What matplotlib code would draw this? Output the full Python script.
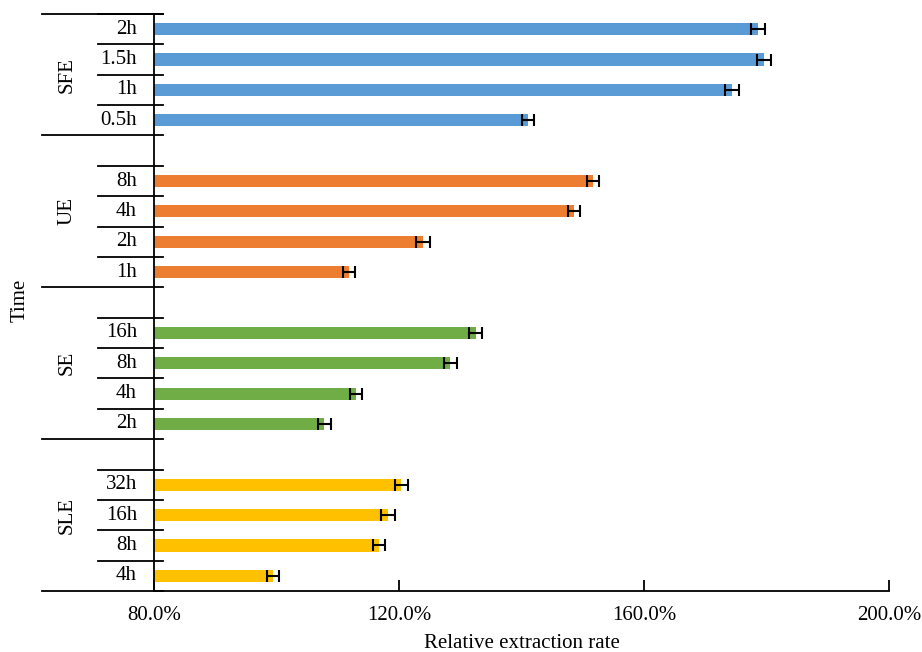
import matplotlib
matplotlib.use('Agg')
from matplotlib import pyplot as plt
from matplotlib.ticker import FuncFormatter
import matplotlib.transforms as mtransforms

# data (bottom to top within each group)
groups = ['SLE', 'SE', 'UE', 'SFE']
sle_times = ['4h', '8h', '16h', '32h']
sle_rate = [99.4, 116.7, 118.2, 120.4]
sle_err = [1.0, 1.0, 1.1, 1.0]
se_times = ['2h', '4h', '8h', '16h']
se_rate = [107.8, 113.0, 128.4, 132.5]
se_err = [1.1, 1.0, 1.1, 1.1]
ue_times = ['1h', '2h', '4h', '8h']
ue_rate = [111.8, 123.9, 148.6, 151.7]
ue_err = [1.0, 1.1, 1.0, 1.0]
sfe_times = ['0.5h', '1h', '1.5h', '2h']
sfe_rate = [141.0, 174.4, 179.6, 178.6]
sfe_err = [1.0, 1.1, 1.2, 1.1]
colors = ['#FFC000', '#70AD47', '#ED7D31', '#5B9BD5']

times = [sle_times, se_times, ue_times, sfe_times]
rates = [sle_rate, se_rate, ue_rate, sfe_rate]
errs = [sle_err, se_err, ue_err, sfe_err]

plt.rcParams['font.family'] = ['Liberation Serif', 'DejaVu Serif']
plt.rcParams['font.size'] = 15

fig = plt.figure(figsize=(9.22, 6.52), dpi=100)
ax = fig.add_axes([154 / 922, 1 - 591 / 652, (889 - 154) / 922, (591 - 14) / 652])

# slot positions: 4 bars per group, an empty slot between groups
pos = 0
bounds = [-0.5]
label_pos = []
for i, g in enumerate(groups):
    ys = [pos + k for k in range(len(times[i]))]
    ax.barh(ys, [r - 80 for r in rates[i]], left=80, height=0.4,
            color=colors[i], zorder=2)
    ax.errorbar(rates[i], ys, xerr=errs[i], fmt='none', ecolor='black',
                elinewidth=1.5, capsize=4.5, capthick=1.5, zorder=3)
    label_pos.append((ys, times[i]))
    pos += len(times[i])
    if i < len(groups) - 1:
        pos += 1  # empty slot
    bounds.append(pos - 0.5)

ax.set_xlim(80, 200)
ax.set_ylim(-0.5, pos - 0.5)
ax.set_xticks([80, 120, 160, 200])
ax.xaxis.set_major_formatter(FuncFormatter(lambda v, p: '%.1f%%' % v))
ax.tick_params(axis='x', direction='in', length=8, width=1.3, pad=11)
ax.set_yticks([])
for s in ['top', 'right']:
    ax.spines[s].set_visible(False)
for s in ['left', 'bottom']:
    ax.spines[s].set_linewidth(1.3)
ax.set_xlabel('Relative extraction rate', labelpad=6)

# hierarchical category axis drawn by hand
trans = mtransforms.blended_transform_factory(fig.transFigure, ax.transData)
xl_long, xl_short, x_end = 42 / 922, 98 / 922, 163 / 922
for b in bounds:
    ax.plot([xl_long, x_end], [b, b], color='black', lw=1.3,
            transform=trans, clip_on=False)
for i, (ys, labs) in enumerate(label_pos):
    for y, lab in zip(ys, labs):
        ax.plot([xl_short, x_end], [y + 0.5, y + 0.5], color='black', lw=1.3,
                transform=trans, clip_on=False)
        ax.text(137 / 922, y, lab, transform=trans, ha='right', va='center')
    mid = (bounds[i] + bounds[i + 1]) / 2
    ax.text(67 / 922, mid, groups[i], transform=trans, ha='center',
            va='center', rotation=90)

fig.text(20 / 922, 1 - 300 / 652, 'Time', rotation=90, ha='center', va='center')

fig.savefig('out.png', dpi=100)
